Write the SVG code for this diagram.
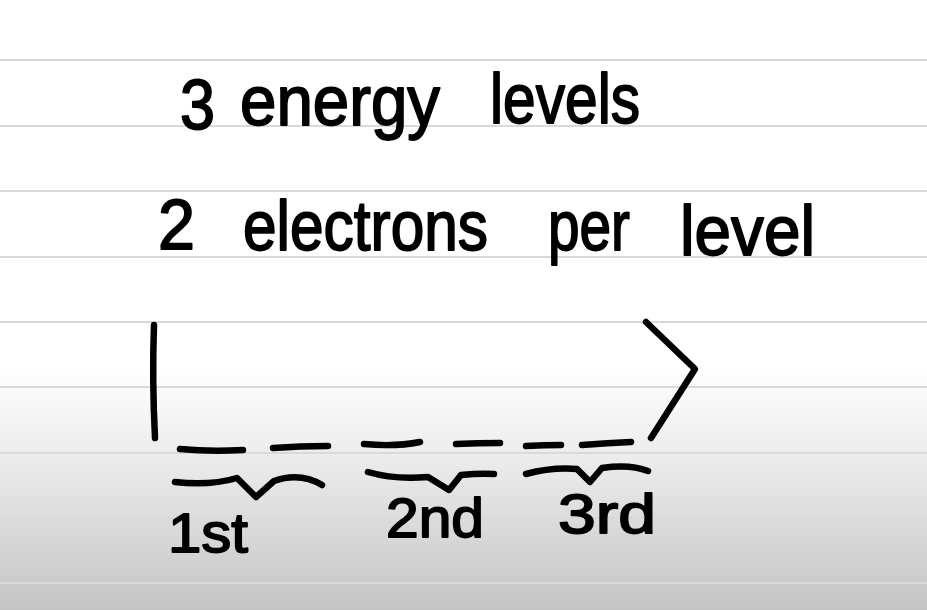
<svg xmlns="http://www.w3.org/2000/svg" width="927" height="610" viewBox="0 0 927 610">
  <defs>
    <linearGradient id="bg" x1="0" y1="0" x2="0" y2="1">
      <stop offset="0" stop-color="#ffffff"/>
      <stop offset="0.6" stop-color="#ffffff"/>
      <stop offset="0.75" stop-color="#ececec"/>
      <stop offset="1" stop-color="#c4c4c4"/>
    </linearGradient>
    <style>
      .rule { stroke: #d6d9de; stroke-width: 2; }
      .ink { fill: none; stroke: #000; stroke-width: 6.5; stroke-linecap: round; stroke-linejoin: round; }
      .hand { font-family: "Liberation Sans", "DejaVu Sans", sans-serif; fill: #000; stroke: #000; stroke-width: 1.8; stroke-linejoin: round; }
      .big { font-size: 70px; }
      .small { font-size: 56px; }
    </style>
  </defs>
  <rect x="0" y="0" width="927" height="610" fill="url(#bg)"/>
  <g id="rules">
    <line class="rule" x1="0" y1="60" x2="927" y2="60"/>
    <line class="rule" x1="0" y1="126" x2="927" y2="126"/>
    <line class="rule" x1="0" y1="191" x2="927" y2="191"/>
    <line class="rule" x1="0" y1="257" x2="927" y2="257"/>
    <line class="rule" x1="0" y1="322" x2="927" y2="322"/>
    <line class="rule" x1="0" y1="387" x2="927" y2="387"/>
    <line class="rule" x1="0" y1="453" x2="927" y2="453" stroke="#cfd0d3"/>
    <line class="rule" x1="0" y1="518" x2="927" y2="518" stroke="#bdbdbd"/>
    <line class="rule" x1="0" y1="583" x2="927" y2="583" stroke="#adadad"/>
  </g>
  <g id="heading">
    <text class="hand big" x="180" y="129" textLength="35" lengthAdjust="spacingAndGlyphs">3</text>
    <text class="hand big" x="240" y="125" textLength="200" lengthAdjust="spacingAndGlyphs">energy</text>
    <text class="hand big" x="490" y="123" textLength="150" lengthAdjust="spacingAndGlyphs">levels</text>
    <text class="hand big" x="158" y="249" textLength="37" lengthAdjust="spacingAndGlyphs">2</text>
    <text class="hand big" x="243" y="250" textLength="245" lengthAdjust="spacingAndGlyphs">electrons</text>
    <text class="hand big" x="548" y="250" textLength="82" lengthAdjust="spacingAndGlyphs">per</text>
    <text class="hand big" x="680" y="255" textLength="135" lengthAdjust="spacingAndGlyphs">level</text>
  </g>
  <g id="shell">
    <path class="ink" d="M154,325 Q152,380 155,438"/>
    <path class="ink" d="M646,322 L695,369 L651,438"/>
  </g>
  <g id="slots">
    <path class="ink" d="M180,449 Q210,452 243,450"/>
    <path class="ink" d="M273,448 Q300,446 328,446"/>
    <path class="ink" d="M364,444 Q395,447 420,442"/>
    <path class="ink" d="M456,444 Q478,443 500,443"/>
    <path class="ink" d="M526,446 Q545,445 561,445"/>
    <path class="ink" d="M582,445 Q608,443 631,442"/>
  </g>
  <g id="braces">
    <path class="ink" d="M175,482 Q210,486 237,478 L256,497 L274,481 Q300,472 322,485"/>
    <path class="ink" d="M368,472 Q395,480 428,477 L449,490 L461,475 Q480,473 494,474"/>
    <path class="ink" d="M526,474 Q552,467 577,469 L590,482 L602,468 Q630,464 648,471"/>
  </g>
  <g id="labels">
    <text class="hand small" x="168" y="552" textLength="80" lengthAdjust="spacingAndGlyphs">1st</text>
    <text class="hand small" x="386" y="537" textLength="98" lengthAdjust="spacingAndGlyphs">2nd</text>
    <text class="hand small" x="558" y="533" textLength="98" lengthAdjust="spacingAndGlyphs">3rd</text>
  </g>
</svg>
